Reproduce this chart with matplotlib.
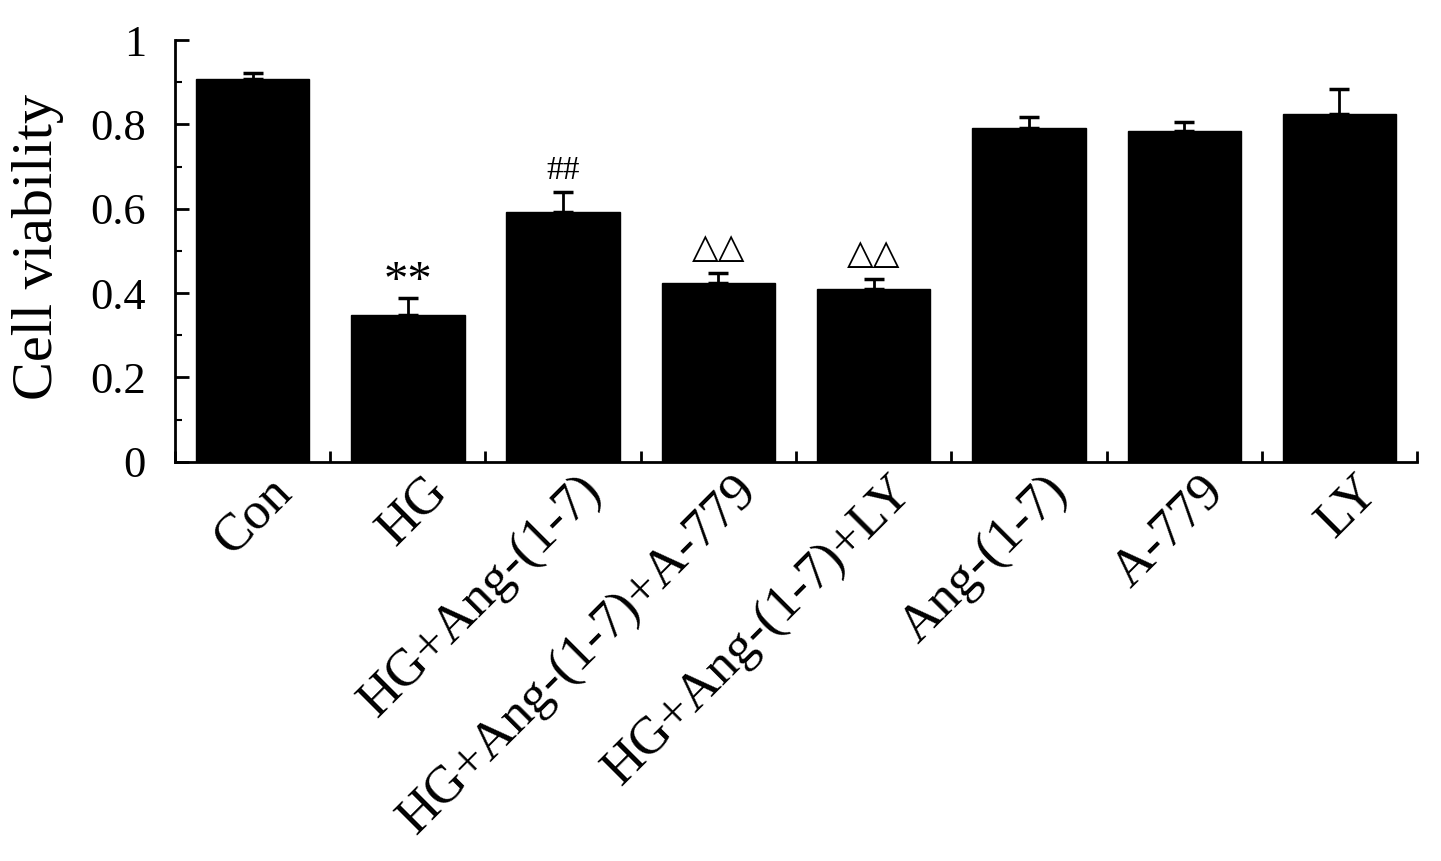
import numpy as np
import matplotlib
matplotlib.use('Agg')
import matplotlib.pyplot as plt
import matplotlib.transforms as mtransforms
from matplotlib.ticker import MultipleLocator, FixedLocator

### Plot settings
plt.rcParams['font.family'] = ['Liberation Serif', 'DejaVu Serif']

groups = ['Con', 'HG', 'HG+Ang-(1-7)', 'HG+Ang-(1-7)+A-779', 'HG+Ang-(1-7)+LY',
          'Ang-(1-7)', 'A-779', 'LY']
means = [0.907, 0.348, 0.593, 0.424, 0.409, 0.791, 0.785, 0.825]
errs = [0.016, 0.039, 0.047, 0.023, 0.024, 0.026, 0.021, 0.059]
marks = ['', '**', '##', '\u25b3\u25b3', '\u25b3\u25b3', '', '', '']
yticks = [0, 0.2, 0.4, 0.6, 0.8, 1]
ytick_labels = ['0', '0.2', '0.4', '0.6', '0.8', '1']

fig = plt.figure(figsize=(14.41, 8.61), dpi=100)
ax = fig.add_axes([0.1214, 0.4638, 0.862, 0.4897])

x = np.arange(len(groups))
ax.bar(x, means, width=0.73, color='black', edgecolor='black', linewidth=1)
ax.errorbar(x, means, yerr=[np.zeros(len(errs)), errs], fmt='none',
            ecolor='black', elinewidth=2, capsize=7.5, capthick=2.5)

# significance marks
for i, m in enumerate(marks):
    if not m:
        continue
    top = means[i] + errs[i]
    if m == '**':
        ax.text(x[i], top - 0.014, m, ha='center', va='bottom', fontsize=35)
    elif m == '##':
        ax.text(x[i], top + 0.014, m, ha='center', va='bottom', fontsize=24)
    else:
        ax.text(x[i], top + 0.02, m, ha='center', va='bottom', fontsize=25,
                family=['DejaVu Sans'])

ax.set_xlim(-0.5, len(groups) - 0.5)
ax.set_ylim(0, 1)
ax.set_yticks(yticks)
ax.set_yticklabels(ytick_labels)
ax.yaxis.set_minor_locator(MultipleLocator(0.1))
ax.tick_params(axis='y', which='major', direction='in', length=10, width=2,
               labelsize=32, pad=21)
ax.tick_params(axis='y', which='minor', direction='in', length=5, width=1.5)

# category labels with boundary ticks
ax.xaxis.set_major_locator(FixedLocator(np.arange(-0.5, len(groups), 1.0)))
ax.xaxis.set_major_formatter(plt.NullFormatter())
ax.tick_params(axis='x', which='major', direction='in', length=8, width=2)
ax.xaxis.set_minor_locator(FixedLocator(x))
ax.set_xticklabels(groups, minor=True, rotation=45, ha='right', va='top',
                   rotation_mode='anchor', fontsize=38)
ax.tick_params(axis='x', which='minor', length=0, pad=4)
shift = mtransforms.ScaledTranslation(15 / 100, 0, fig.dpi_scale_trans)
for lab in ax.get_xticklabels(minor=True):
    lab.set_transform(lab.get_transform() + shift)

ax.set_ylabel('Cell viability', fontsize=42)
ax.yaxis.set_label_coords(-0.089, 0.51)

for s in ['top', 'right']:
    ax.spines[s].set_visible(False)
for s in ['left', 'bottom']:
    ax.spines[s].set_linewidth(2)

plt.savefig('out.png', dpi=100)
